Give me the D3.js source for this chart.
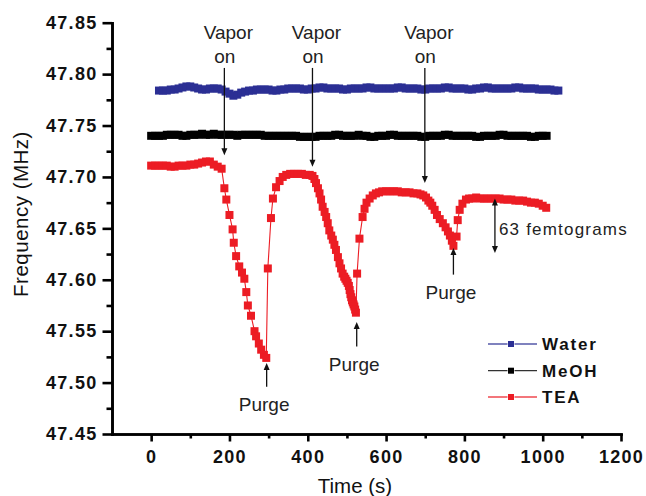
<!DOCTYPE html>
<html><head><meta charset="utf-8">
<script src="https://cdn.jsdelivr.net/npm/d3@7"></script>
<style>
html,body{margin:0;padding:0;background:#fff;}
svg{display:block;font-family:"Liberation Sans",Arial,sans-serif;}
</style></head>
<body><svg id="c" width="646" height="496"></svg>
<script>
// ---------- data ----------
const waterTime = [20,30,40,50,60,70,80,90,100,110,120,130,140,150,160,170,180,190,200,210,220,230,240,250,260,270,280,290,300,310,320,330,340,350,360,370,380,390,400,410,420,430,440,450,460,470,480,490,500,510,520,530,540,550,560,570,580,590,600,610,620,630,640,650,660,670,680,690,700,710,720,730,740,750,760,770,780,790,800,810,820,830,840,850,860,870,880,890,900,910,920,930,940,950,960,970,980,990,1000,1010,1020,1030,1040];
const waterFreq = [47.784,47.784,47.784,47.785,47.785,47.786,47.787,47.788,47.788,47.787,47.786,47.785,47.785,47.786,47.786,47.786,47.785,47.783,47.781,47.779,47.780,47.782,47.783,47.784,47.784,47.785,47.785,47.785,47.785,47.784,47.784,47.785,47.785,47.786,47.786,47.786,47.786,47.785,47.785,47.786,47.786,47.787,47.787,47.786,47.786,47.786,47.786,47.785,47.785,47.786,47.786,47.786,47.786,47.787,47.787,47.786,47.786,47.786,47.786,47.786,47.786,47.787,47.787,47.786,47.786,47.786,47.786,47.785,47.785,47.786,47.786,47.786,47.786,47.787,47.787,47.786,47.786,47.786,47.786,47.785,47.785,47.786,47.786,47.787,47.787,47.786,47.786,47.786,47.786,47.786,47.786,47.787,47.787,47.786,47.786,47.786,47.786,47.785,47.785,47.785,47.785,47.784,47.784];

const meohTime = [0,10,20,30,40,50,60,70,80,90,100,110,120,130,140,150,160,170,180,190,200,210,220,230,240,250,260,270,280,290,300,310,320,330,340,350,360,370,380,390,400,410,420,430,440,450,460,470,480,490,500,510,520,530,540,550,560,570,580,590,600,610,620,630,640,650,660,670,680,690,700,710,720,730,740,750,760,770,780,790,800,810,820,830,840,850,860,870,880,890,900,910,920,930,940,950,960,970,980,990,1000,1010];
const meohFreq = [47.740,47.740,47.740,47.740,47.741,47.741,47.741,47.741,47.740,47.740,47.741,47.741,47.741,47.742,47.741,47.741,47.742,47.741,47.741,47.741,47.741,47.741,47.740,47.741,47.741,47.741,47.741,47.741,47.741,47.740,47.740,47.740,47.740,47.740,47.740,47.740,47.740,47.740,47.739,47.739,47.739,47.739,47.739,47.740,47.740,47.740,47.740,47.741,47.741,47.740,47.740,47.740,47.740,47.741,47.740,47.740,47.739,47.739,47.740,47.740,47.740,47.741,47.741,47.740,47.740,47.740,47.740,47.740,47.740,47.739,47.739,47.740,47.740,47.740,47.740,47.741,47.741,47.740,47.740,47.740,47.740,47.740,47.740,47.739,47.739,47.740,47.740,47.740,47.740,47.741,47.741,47.740,47.740,47.740,47.740,47.740,47.740,47.739,47.739,47.740,47.740,47.740];

const teaTime = [0,10,20,30,40,50,60,70,80,90,100,110,120,130,140,150,160,170,180,
  187,192,200,208,211,217,225,232,238,243,247,255,264,268,275,281,288,294,
  298,306,311,319,328,336,345,355,365,375,385,395,405,412,417,421,426,430,434,438,443,447,451,455,460,464,468,472,477,481,485,489,493,496,499,502,505,507,509,511,513,515,517,519,521,523,
  526,532,540,545,550,558,566,574,582,590,600,610,620,630,640,650,660,670,680,688,695,702,708,713,718,724,730,737,745,752,758,763,768,772,
  780,783,788,795,804,812,820,830,840,850,860,870,880,890,900,910,920,930,940,950,960,970,980,990,1000,1009];
const teaFreq = [47.711,47.711,47.711,47.711,47.711,47.710,47.710,47.711,47.711,47.711,47.712,47.712,47.713,47.714,47.715,47.715,47.712,47.710,47.708,
  47.689,47.678,47.663,47.649,47.636,47.623,47.613,47.607,47.601,47.588,47.575,47.565,47.550,47.545,47.538,47.532,47.527,47.524,
  47.611,47.660,47.679,47.690,47.696,47.700,47.702,47.703,47.703,47.703,47.703,47.702,47.702,47.701,47.698,47.694,47.689,47.684,47.678,47.671,47.666,47.661,47.655,47.648,47.643,47.639,47.634,47.629,47.622,47.616,47.611,47.606,47.603,47.601,47.599,47.597,47.594,47.590,47.586,47.583,47.580,47.578,47.576,47.574,47.571,47.568,
  47.606,47.640,47.661,47.669,47.675,47.679,47.682,47.684,47.685,47.686,47.686,47.686,47.686,47.686,47.685,47.685,47.685,47.684,47.684,47.683,47.682,47.680,47.677,47.675,47.672,47.668,47.663,47.659,47.655,47.651,47.647,47.643,47.638,47.633,
  47.642,47.658,47.668,47.674,47.678,47.679,47.679,47.680,47.679,47.679,47.679,47.679,47.679,47.679,47.678,47.678,47.678,47.677,47.677,47.677,47.676,47.675,47.675,47.674,47.672,47.670];

const seriesNames = ["Water","MeOH","TEA"];
const seriesColors = ["#2b2f94","#000000","#ec1c24"];

const xMajorTicks = [0,200,400,600,800,1000,1200];
const xMinorTicks = [100,300,500,700,900,1100];
const yMajorTicks = [47.45,47.50,47.55,47.60,47.65,47.70,47.75,47.80,47.85];
const yMinorTicks = [47.475,47.525,47.575,47.625,47.675,47.725,47.775,47.825];

// annotations (data units)
const vaporTimes = [187,412,699];
const vaporTipFreq = [47.721,47.710,47.694];
const vaporTopFreq = 47.806;
const purgeTimes = [295,525,772];
const purgeTipFreq = [47.519,47.559,47.631];
const purgeTailFreq = [47.496,47.535,47.605];
const massTime = 878;
const massTopFreq = 47.679;
const massBottomFreq = 47.626;
const massLabel = "63 femtograms";

// ---------- drawing ----------
const svg = d3.select("#c");
const x = d3.scaleLinear().domain([-100,1200]).range([112,621]);
const y = d3.scaleLinear().domain([47.45,47.85]).range([434,22.7]);

const series = [
  {t:waterTime, f:waterFreq},
  {t:meohTime, f:meohFreq},
  {t:teaTime, f:teaFreq}
];

// axes
const axW = 2.6;
const gyMinor = svg.append("g").attr("transform",`translate(${x(-100)},0)`)
  .call(d3.axisLeft(y).tickValues(yMinorTicks).tickSize(5.5).tickSizeOuter(0).tickFormat(""));
const gy = svg.append("g").attr("transform",`translate(${x(-100)},0)`)
  .call(d3.axisLeft(y).tickValues(yMajorTicks).tickSize(9.5).tickSizeOuter(0).tickPadding(5).tickFormat(d3.format(".2f")));
const gxMinor = svg.append("g").attr("transform",`translate(0,${y(47.45)})`)
  .call(d3.axisBottom(x).tickValues(xMinorTicks).tickSize(4.5).tickSizeOuter(0).tickFormat(""));
const gx = svg.append("g").attr("transform",`translate(0,${y(47.45)})`)
  .call(d3.axisBottom(x).tickValues(xMajorTicks).tickSize(7.5).tickSizeOuter(0).tickPadding(8.5).tickFormat(d3.format("d")));
[gyMinor,gy,gxMinor,gx].forEach(g=>{
  g.selectAll("path.domain").attr("stroke","#000").attr("stroke-width",axW).attr("stroke-linecap","square");
  g.selectAll(".tick line").attr("stroke","#000").attr("stroke-width",axW);
  g.selectAll("text").attr("fill","#111").attr("font-size",18).attr("font-weight","bold")
    .attr("letter-spacing","1.3px").attr("font-family","'Liberation Sans',Arial,sans-serif");
});

// axis titles
svg.append("text").attr("x",355).attr("y",492.5).attr("text-anchor","middle")
  .attr("font-size",20.5).attr("fill","#111").text("Time (s)");
svg.append("text").attr("transform",`translate(28,214) rotate(-90)`).attr("text-anchor","middle")
  .attr("font-size",20.5).attr("letter-spacing","0.5px").attr("fill","#111").text("Frequency (MHz)");

// series
const ms = 8;
series.forEach((s,i)=>{
  const pts = s.t.map((t,j)=>[t,s.f[j]]);
  const g = svg.append("g");
  g.append("path").datum(pts)
    .attr("d", d3.line().x(d=>x(d[0])).y(d=>y(d[1])))
    .attr("fill","none").attr("stroke",seriesColors[i]).attr("stroke-width",1.1);
  g.selectAll("rect").data(pts).join("rect")
    .attr("x",d=>x(d[0])-ms/2).attr("y",d=>y(d[1])-ms/2)
    .attr("width",ms).attr("height",ms).attr("fill",seriesColors[i]);
});

// arrow helper
function arrowHead(px,py,dir){ // dir: 1 = pointing down, -1 = pointing up
  const L=7, W=3;
  svg.append("path").attr("d",`M${px},${py} L${px-W},${py-dir*L} L${px+W},${py-dir*L} Z`).attr("fill","#111");
}
function vline(px,y1,y2){
  svg.append("line").attr("x1",px).attr("x2",px).attr("y1",y1).attr("y2",y2)
    .attr("stroke","#111").attr("stroke-width",1.3);
}

// Vapor on
vaporTimes.forEach((t,i)=>{
  const px = x(t);
  vline(px, y(vaporTopFreq), y(vaporTipFreq[i])-4);
  arrowHead(px, y(vaporTipFreq[i]), 1);
  svg.append("text").attr("x",px+4).attr("y",39.3).attr("text-anchor","middle")
    .attr("font-size",19).attr("fill","#222").text("Vapor");
  svg.append("text").attr("x",px+0.5).attr("y",62.7).attr("text-anchor","middle")
    .attr("font-size",19).attr("fill","#222").text("on");
});

// Purge
purgeTimes.forEach((t,i)=>{
  const px = x(t);
  vline(px, y(purgeTailFreq[i]), y(purgeTipFreq[i])+4);
  arrowHead(px, y(purgeTipFreq[i]), -1);
  svg.append("text").attr("x",px-2.5).attr("y",y(purgeTailFreq[i])+24).attr("text-anchor","middle")
    .attr("font-size",19).attr("fill","#222").text("Purge");
});

// mass double arrow
{
  const px = x(massTime);
  vline(px, y(massTopFreq)+4, y(massBottomFreq)-4);
  arrowHead(px, y(massTopFreq), -1);
  arrowHead(px, y(massBottomFreq), 1);
  svg.append("text").attr("x",px+4).attr("y",235).attr("font-size",17)
    .attr("letter-spacing","1.2px").attr("fill","#222").text(massLabel);
}

// legend
const legY = [344,370.7,397];
seriesNames.forEach((n,i)=>{
  const g = svg.append("g");
  g.append("line").attr("x1",488).attr("x2",537).attr("y1",legY[i]).attr("y2",legY[i])
    .attr("stroke",seriesColors[i]).attr("stroke-width",1.3).attr("opacity",0.8);
  g.append("rect").attr("x",511-3.5).attr("y",legY[i]-3.5).attr("width",7).attr("height",7)
    .attr("fill","#fff");
  g.append("rect").attr("x",511-3).attr("y",legY[i]-3).attr("width",6).attr("height",6)
    .attr("fill",seriesColors[i]);
  g.append("text").attr("x",542).attr("y",legY[i]+6).attr("font-size",17).attr("font-weight","bold")
    .attr("letter-spacing","1.8px").attr("fill","#111").text(n);
});
</script></body></html>
